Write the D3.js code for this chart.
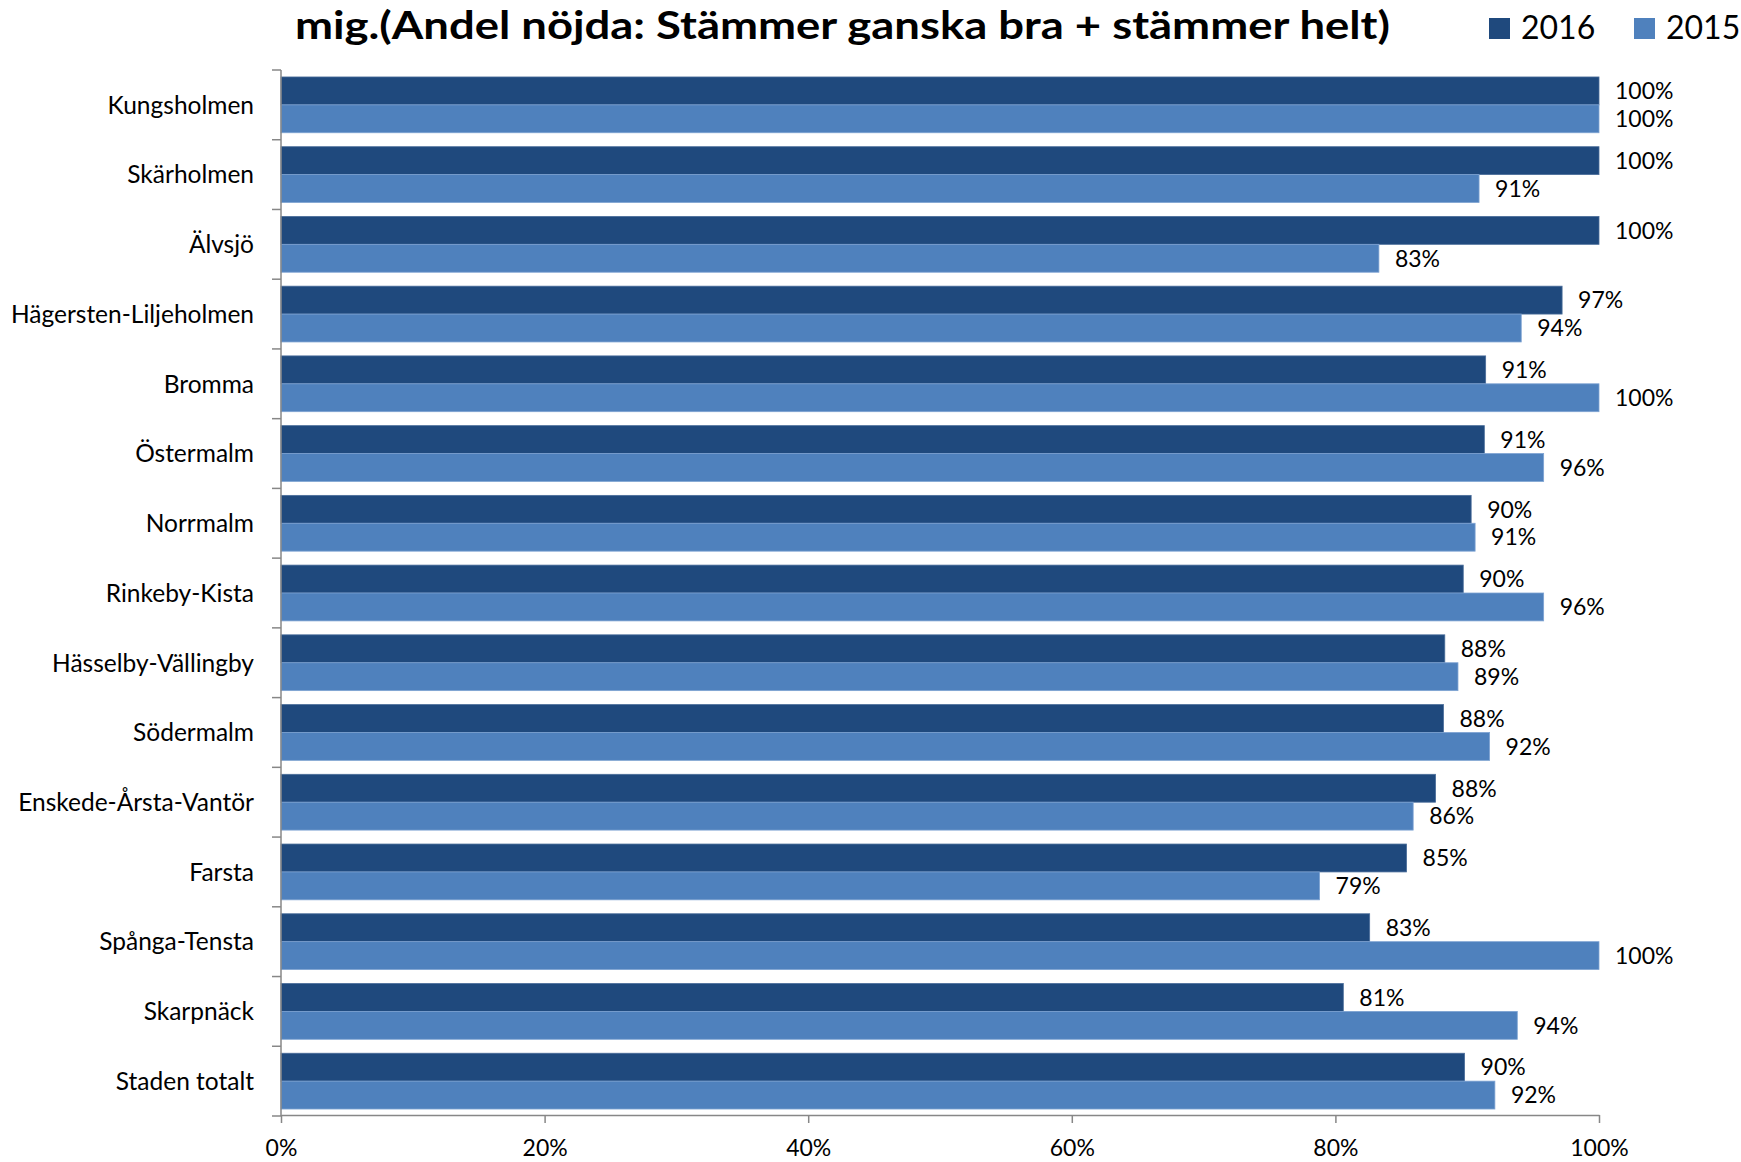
<!DOCTYPE html>
<html>
<head>
<meta charset="utf-8">
<script src="https://cdn.jsdelivr.net/npm/d3@7"></script>
<style>
  html, body { margin: 0; padding: 0; background: #fff; }
  svg { display: block; }
  text { font-family: Lato, "Open Sans", sans-serif; fill: #000; }
</style>
</head>
<body>
<svg id="chart" width="1741" height="1162"></svg>
<script>
// Stadsdelar (top to bottom)
const categories = [
  "Kungsholmen", "Skärholmen", "Älvsjö", "Hägersten-Liljeholmen", "Bromma",
  "Östermalm", "Norrmalm", "Rinkeby-Kista", "Hässelby-Vällingby", "Södermalm",
  "Enskede-Årsta-Vantör", "Farsta", "Spånga-Tensta", "Skarpnäck", "Staden totalt"
];
// Andel nöjda per år
const values2016 = [1.0, 1.0, 1.0, 0.972, 0.914, 0.913, 0.903, 0.897, 0.883, 0.882, 0.876, 0.854, 0.826, 0.806, 0.898];
const values2015 = [1.0, 0.909, 0.833, 0.941, 1.0, 0.958, 0.906, 0.958, 0.893, 0.917, 0.859, 0.788, 1.0, 0.938, 0.921];
const seriesNames = ["2016", "2015"];
const xTicks = [0, 0.2, 0.4, 0.6, 0.8, 1.0];
const titleText = "mig.(Andel nöjda: Stämmer ganska bra + stämmer helt)";

const colors = { "2016": "#1F497D", "2015": "#4F81BD" };
const edge = { "2016": "#4a6d9a", "2015": "#7ea3d2" };

const svg = d3.select("#chart");
const plotLeft = 281, plotRight = 1599, plotTop = 70, plotBottom = 1116;

const x = d3.scaleLinear().domain([0, 1]).range([plotLeft, plotRight]);
const y = d3.scaleBand().domain(categories).range([plotTop, plotBottom])
  .paddingInner(0.2).paddingOuter(0.1);
const ySub = d3.scaleBand().domain(seriesNames).range([0, y.bandwidth()]);
const step = y.step();
const fmt = d3.format(".0%");

// Bars
const rows = categories.map((c, i) => ({ c, v: { "2016": values2016[i], "2015": values2015[i] } }));
const groups = svg.append("g").selectAll("g").data(rows).join("g")
  .attr("transform", d => `translate(0,${y(d.c)})`);

seriesNames.forEach(s => {
  groups.append("rect")
    .attr("x", x(0))
    .attr("y", ySub(s))
    .attr("width", d => x(d.v[s]) - x(0))
    .attr("height", ySub.bandwidth())
    .attr("fill", colors[s])
    .attr("stroke", edge[s])
    .attr("stroke-width", 0.8);
  groups.append("text")
    .attr("x", d => x(d.v[s]) + 16)
    .attr("y", ySub(s) + ySub.bandwidth() / 2)
    .attr("dy", "0.36em")
    .attr("font-size", 23)
    .text(d => fmt(d.v[s]));
});

// Category axis
const axisColor = "#878787";
const yAxis = svg.append("g");
yAxis.append("line")
  .attr("x1", plotLeft).attr("x2", plotLeft).attr("y1", plotTop).attr("y2", plotBottom)
  .attr("stroke", axisColor).attr("stroke-width", 1.5);
yAxis.selectAll("line.tick").data(d3.range(categories.length + 1)).join("line")
  .attr("class", "tick")
  .attr("x1", plotLeft - 9).attr("x2", plotLeft)
  .attr("y1", i => plotTop + i * step).attr("y2", i => plotTop + i * step)
  .attr("stroke", axisColor).attr("stroke-width", 1.5);
yAxis.selectAll("text").data(categories).join("text")
  .attr("x", 254)
  .attr("y", d => y(d) + y.bandwidth() / 2)
  .attr("dy", "0.36em")
  .attr("text-anchor", "end")
  .attr("font-size", 24.5)
  .text(d => d);

// Value axis
const xAxis = d3.axisBottom(x).tickValues(xTicks).tickFormat(d3.format(".0%"))
  .tickSizeInner(8).tickSizeOuter(0).tickPadding(17);
const gx = svg.append("g").attr("transform", `translate(0,${plotBottom - 1})`).call(xAxis);
gx.select(".domain").attr("stroke", axisColor).attr("stroke-width", 1.5);
gx.selectAll(".tick line").attr("stroke", axisColor).attr("stroke-width", 1.5);
gx.selectAll(".tick text")
  .attr("font-family", "Lato, 'Open Sans', sans-serif")
  .attr("font-size", 23)
  .attr("fill", "#000");

// Title
svg.append("text")
  .attr("x", 295).attr("y", 39)
  .attr("font-size", 39)
  .attr("font-weight", 700)
  .attr("textLength", 1095)
  .attr("lengthAdjust", "spacingAndGlyphs")
  .text(titleText);

// Legend
const legendX = { "2016": 1489, "2015": 1634 };
const legend = svg.append("g");
seriesNames.forEach(s => {
  legend.append("rect")
    .attr("x", legendX[s]).attr("y", 18)
    .attr("width", 21).attr("height", 21)
    .attr("fill", colors[s]);
  legend.append("text")
    .attr("x", legendX[s] + 32).attr("y", 39)
    .attr("font-size", 32)
    .text(s);
});
</script>
</body>
</html>
